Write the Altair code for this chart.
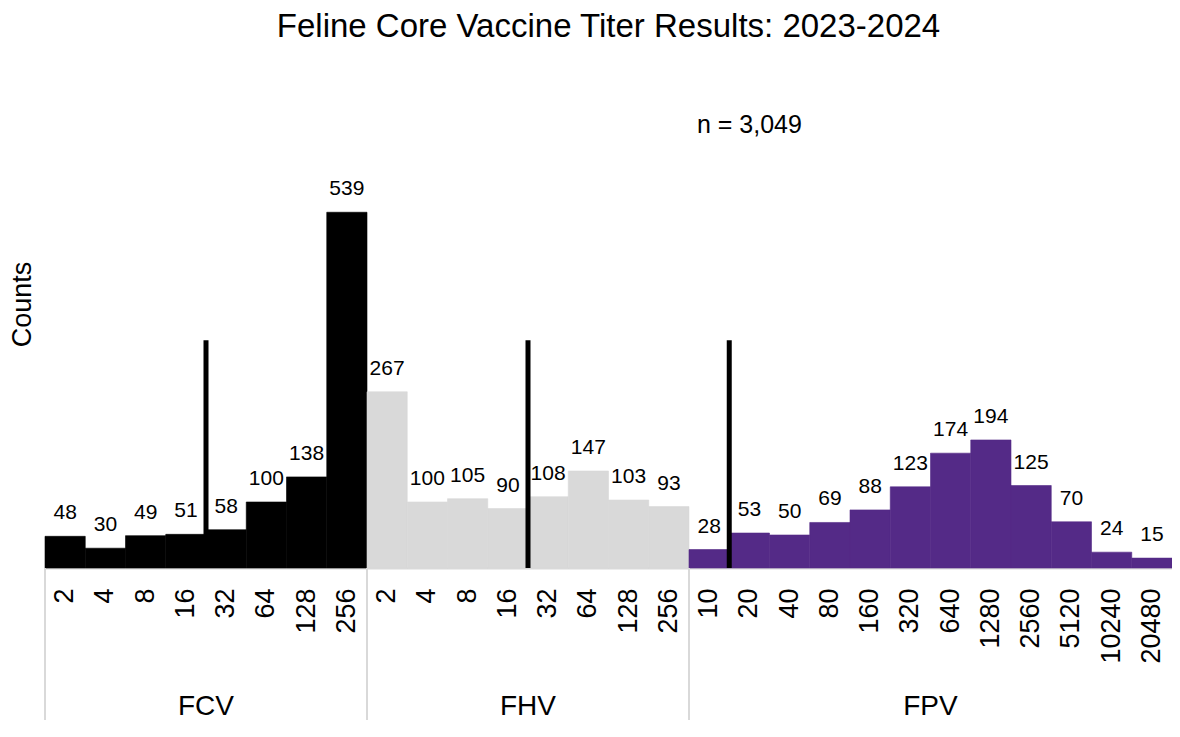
import altair as alt
import pandas as pd

groups = ["FCV"] * 8 + ["FHV"] * 8 + ["FPV"] * 12
titers = ["2", "4", "8", "16", "32", "64", "128", "256",
          "2", "4", "8", "16", "32", "64", "128", "256",
          "10", "20", "40", "80", "160", "320", "640", "1280", "2560", "5120", "10240", "20480"]
counts = [48, 30, 49, 51, 58, 100, 138, 539,
          267, 100, 105, 90, 108, 147, 103, 93,
          28, 53, 50, 69, 88, 123, 174, 194, 125, 70, 24, 15]

keys = [f"{g}|{t}" for g, t in zip(groups, titers)]

# cut-off lines (at the left edge of the named bar)
cut_keys = ["FCV|32", "FHV|32", "FPV|20"]
cut_vals = [345, 345, 345]

# group labels (centered at the left edge of the named bar)
grp_names = ["FCV", "FHV", "FPV"]
grp_mid_keys = ["FCV|32", "FHV|32", "FPV|640"]
grp_first_keys = ["FCV|2", "FHV|2", "FPV|10"]

note_text = ["n = 3,049"]
note_key = ["FPV|20"]
note_val = [671]

group_colors = ["#000000", "#d9d9d9", "#542a87"]

W, H = 1127, 528
FONT = "Liberation Sans"

df = pd.DataFrame({"key": keys, "group": groups, "titer": titers, "count": counts})
cut_df = pd.DataFrame({"key": cut_keys, "val": cut_vals, "zero": [0] * 3})
grp_df = pd.DataFrame({"key": grp_mid_keys, "name": grp_names})
sep_df = pd.DataFrame({"key": grp_first_keys})
note_df = pd.DataFrame({"key": note_key, "val": note_val, "text": note_text})

xscale = alt.Scale(domain=keys, paddingInner=0, paddingOuter=0)
yscale = alt.Scale(domain=[0, 800], nice=False)
cscale = alt.Scale(domain=grp_names, range=group_colors)

xaxis = alt.Axis(title=None, labelExpr="split(datum.label, '|')[1]",
                 labelAngle=270, labelFontSize=27, labelFont=FONT,
                 labelColor="black", labelPadding=20, ticks=False,
                 domain=True, domainColor="#d9d9d9", domainWidth=2,
                 labelOverlap=False, grid=False)
yaxis = alt.Axis(title="Counts", labels=False, ticks=False, domain=False,
                 grid=False, titleFontSize=27, titleFont=FONT,
                 titleFontWeight="normal", titleColor="black",
                 titlePadding=9)


def X(band=0.5):
    return alt.X("key:N", scale=xscale, sort=keys, axis=xaxis, bandPosition=band)


bars = alt.Chart(df).mark_bar(strokeWidth=0.6).encode(
    x=alt.X("key:N", scale=xscale, sort=keys, axis=xaxis),
    y=alt.Y("count:Q", scale=yscale, axis=yaxis),
    color=alt.Color("group:N", scale=cscale, legend=None),
    stroke=alt.Stroke("group:N", scale=cscale, legend=None),
)

labels = alt.Chart(df).mark_text(fontSize=21, font=FONT, color="black",
                                 baseline="alphabetic", dy=-17).encode(
    x=alt.X("key:N", scale=xscale, sort=keys, axis=xaxis),
    y=alt.Y("count:Q", scale=yscale, axis=yaxis),
    text="count:Q",
)

cuts = alt.Chart(cut_df).mark_rule(color="black", strokeWidth=5).encode(
    x=X(0),
    y=alt.Y("val:Q", scale=yscale, axis=yaxis),
    y2="zero:Q",
)

seps = alt.Chart(sep_df).mark_rule(color="#d9d9d9", strokeWidth=2).encode(
    x=X(0),
    y=alt.value(H),
    y2=alt.value(H + 152),
)

grp_text = alt.Chart(grp_df).mark_text(fontSize=28, font=FONT, color="black",
                                       baseline="middle").encode(
    x=X(0),
    y=alt.value(H + 139),
    text="name:N",
)

note = alt.Chart(note_df).mark_text(fontSize=25, font=FONT, color="black",
                                    baseline="middle").encode(
    x=alt.X("key:N", scale=xscale, sort=keys, axis=xaxis),
    y=alt.Y("val:Q", scale=yscale, axis=yaxis),
    text="text:N",
)

chart = alt.layer(bars, labels, cuts, seps, grp_text, note).properties(
    width=W, height=H,
    title=alt.TitleParams("Feline Core Vaccine Titer Results: 2023-2024",
                          fontSize=33, font=FONT, fontWeight="normal",
                          color="black", anchor="middle", offset=0, dy=4),
    autosize=alt.AutoSizeParams(type="none"),
    padding={"left": 37, "top": 32, "right": 0, "bottom": 152},
).configure_view(stroke=None)

chart.save("out.html", embed_options={"renderer": "svg", "actions": False})
